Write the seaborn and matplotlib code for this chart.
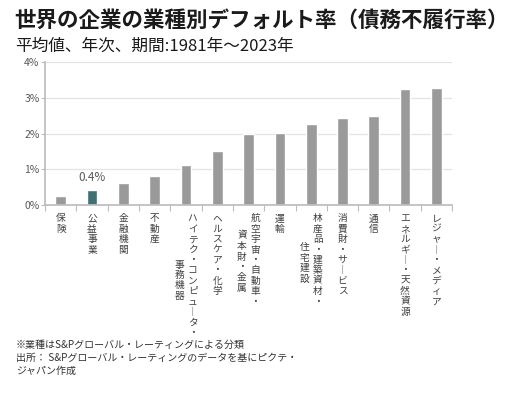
import matplotlib
matplotlib.use("Agg")
import matplotlib.pyplot as plt
import matplotlib.transforms as mtransforms
import seaborn as sns

# data
categories = ["保険", "公益事業", "金融機関", "不動産", "ハイテク・コンピュータ・\n事務機器",
              "ヘルスケア・化学", "航空宇宙・自動車・\n資本財・金属", "運輸",
              "林産品・建築資材・\n住宅建設", "消費財・サービス", "通信",
              "エネルギー・天然資源", "レジャー・メディア"]
rates = [0.25, 0.43, 0.61, 0.81, 1.13, 1.52, 2.0, 2.02, 2.26, 2.43, 2.49, 3.25, 3.27]
highlight = "公益事業"
highlight_label = "0.4%"
yticks = [0, 1, 2, 3, 4]
ytick_labels = ["0%", "1%", "2%", "3%", "4%"]

sns.set_theme(style="white")
plt.rcParams["font.family"] = ["Noto Sans CJK JP", "DejaVu Sans"]

fig = plt.figure(figsize=(5.25, 3.96), dpi=100)
ax = fig.add_axes([0.086, 0.482, 0.775, 0.361])

gray = "#9a9a9a"
teal = "#3f7073"
palette = {c: (teal if c == highlight else gray) for c in categories}
sns.barplot(x=categories, y=rates, hue=categories, palette=palette,
            width=0.34, legend=False, ax=ax, saturation=1)

ax.set_ylim(0, 4)
ax.set_xlim(-0.5, len(categories) - 0.5)
ax.set_yticks(yticks)
ax.set_yticklabels(ytick_labels, fontsize=7.5, color="#595959")
ax.yaxis.grid(True, color="#e3e3e3", linewidth=0.9)
ax.set_axisbelow(True)
for s in ["top", "right"]:
    ax.spines[s].set_visible(False)
ax.spines["left"].set_color("#bdbdbd")
ax.spines["bottom"].set_color("#bdbdbd")
ax.tick_params(axis="y", which="both", left=True, length=3, width=0.8,
               color="#bdbdbd", pad=1)

# ticks between categories
ax.set_xticks([i + 0.5 for i in range(-1, len(categories))])
ax.set_xticklabels([])
ax.tick_params(axis="x", bottom=True, length=4, width=0.8, color="#bdbdbd")

# value label on highlighted bar
hi = categories.index(highlight)
ax.annotate(highlight_label, (hi, rates[hi]), xytext=(0, 4), textcoords="offset points",
            ha="center", va="bottom", fontsize=8.5, color="#595959")

# vertical (stacked) category labels
def vert(s):
    return "\n".join("︱" if ch == "ー" else ch for ch in s)

base = ax.get_xaxis_transform()
for i, lab in enumerate(categories):
    cols = lab.split("\n")
    n = len(cols)
    for j, col in enumerate(cols):
        dx = (n - 1) / 2 * 9.5 - j * 9.5
        tr = mtransforms.offset_copy(base, fig=fig, x=dx, y=-6, units="points")
        if j == 0:
            ax.text(i, 0, vert(col), transform=tr, ha="center", va="top",
                    fontsize=7, color="#404040", linespacing=1.05)
        else:
            n0 = len(cols[0])
            shift = (n0 - len(col)) / 2 * 8.3
            tr = mtransforms.offset_copy(base, fig=fig, x=dx, y=-6 - shift, units="points")
            ax.text(i, 0, vert(col), transform=tr, ha="center", va="top",
                    fontsize=7, color="#404040", linespacing=1.05)

fig.text(0.028, 0.975, "世界の企業の業種別デフォルト率（債務不履行率）",
         fontsize=15.5, fontweight="bold", color="#1a1a1a", va="top")
fig.text(0.028, 0.905, "平均値、年次、期間:1981年～2023年",
         fontsize=12, color="#1a1a1a", va="top")

notes = ["※業種はS&Pグローバル・レーティングによる分類",
         "出所： S&Pグローバル・レーティングのデータを基にピクテ・",
         "ジャパン作成"]
fig.text(0.03, 0.142, "\n".join(notes), fontsize=7.2, color="#333333",
         va="top", linespacing=1.35)

fig.savefig("out.png", dpi=100)
